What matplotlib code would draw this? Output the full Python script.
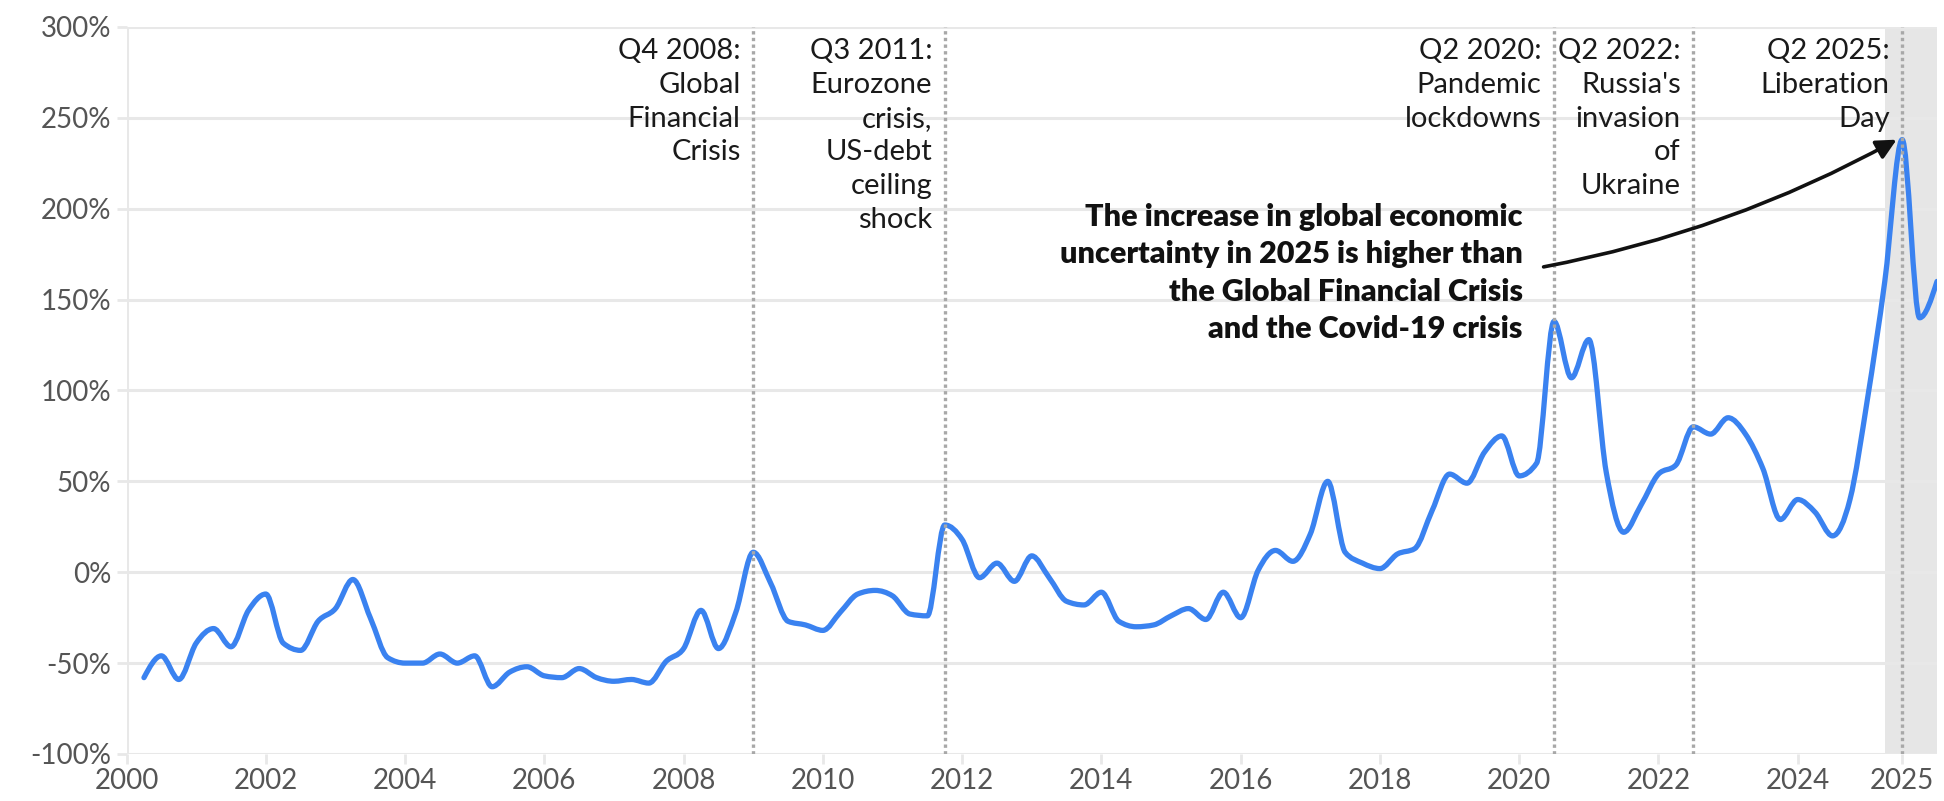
import numpy as np
import matplotlib
matplotlib.use("Agg")
import matplotlib.pyplot as plt
from matplotlib.path import Path
from matplotlib.patches import PathPatch, FancyArrowPatch

# ---------------- data (quarterly, Q1 2000 .. Q4 2025, plotted at quarter end) ----------------
start_year = 2000
values = [
    -58, -46, -59, -39,     # 2000
    -31, -41, -21, -12,     # 2001
    -39, -43, -27, -20,     # 2002
    -4, -25, -47, -50,      # 2003
    -50, -45, -50, -46,     # 2004
    -63, -55, -52, -57,     # 2005
    -58, -53, -58, -60,     # 2006
    -59, -61, -49, -42,     # 2007
    -21, -42, -22, 11,      # 2008
    -6, -27, -29, -32,      # 2009
    -22, -12, -10, -13,     # 2010
    -23, -24, 26, 18,       # 2011
    -3, 5, -5, 9,           # 2012
    -3, -16, -18, -11,      # 2013
    -27, -30, -29, -24,     # 2014
    -20, -26, -11, -25,     # 2015
    1, 12, 6, 21,           # 2016
    50, 11, 5, 2,           # 2017
    10, 13, 34, 54,         # 2018
    49, 66, 75, 53,         # 2019
    60, 138, 107, 128,      # 2020
    55, 22, 37, 54,         # 2021
    59, 80, 76, 85,         # 2022
    76, 57, 29, 40,         # 2023
    33, 20, 40, 95,         # 2024
    160, 238, 140, 160,     # 2025
]

events_x = [2009.0, 2011.75, 2020.5, 2022.5, 2025.5]
events_text = [
    "Q4 2008:\nGlobal\nFinancial\nCrisis",
    "Q3 2011:\nEurozone\ncrisis,\nUS-debt\nceiling\nshock",
    "Q2 2020:\nPandemic\nlockdowns",
    "Q2 2022:\nRussia's\ninvasion\nof\nUkraine",
    "Q2 2025:\nLiberation\nDay",
]

xtick_pos = [2000, 2002, 2004, 2006, 2008, 2010, 2012, 2014, 2016, 2018, 2020, 2022, 2024, 2025.5]
xtick_labels = ["2000", "2002", "2004", "2006", "2008", "2010", "2012", "2014", "2016",
                "2018", "2020", "2022", "2024", "2025"]
yticks = [-100, -50, 0, 50, 100, 150, 200, 250, 300]

highlight_start = 2025.25
callout_text = ("The increase in global economic\nuncertainty in 2025 is higher than\n"
                "the Global Financial Crisis\nand the Covid-19 crisis")

# ---------------- styling ----------------
plt.rcParams['font.family'] = ['Lato', 'DejaVu Sans']
BLUE = "#3a82f0"
GRID = "#e8e8e8"
TICKC = "#555555"

fig = plt.figure(figsize=(19.44, 8.01), dpi=100)
ax = fig.add_axes([0.0651, 0.0587, 0.9313, 0.9076])

x = np.array([start_year + 0.25 * (i + 1) for i in range(len(values))])
y = np.array(values, dtype=float)

# monotone cubic (d3 curveMonotoneX style) rendered as Bezier path
n = len(x)
h = np.diff(x)
s = np.diff(y) / h
t = np.zeros(n)
for i in range(1, n - 1):
    s0, s1 = s[i - 1], s[i]
    p = (s0 * h[i] + s1 * h[i - 1]) / (h[i - 1] + h[i])
    t[i] = (np.sign(s0) + np.sign(s1)) * min(abs(s0), abs(s1), 0.5 * abs(p))
t[0] = (3 * s[0] - t[1]) / 2
t[-1] = (3 * s[-1] - t[-2]) / 2
verts = [(x[0], y[0])]
codes = [Path.MOVETO]
for i in range(n - 1):
    dx = (x[i + 1] - x[i]) / 3
    verts += [(x[i] + dx, y[i] + dx * t[i]), (x[i + 1] - dx, y[i + 1] - dx * t[i + 1]),
              (x[i + 1], y[i + 1])]
    codes += [Path.CURVE4] * 3
line = PathPatch(Path(verts, codes), facecolor="none", edgecolor=BLUE, lw=3.8,
                 capstyle="round", joinstyle="round", zorder=3)
ax.add_patch(line)

ax.set_xlim(2000, 2026)
ax.set_ylim(-100, 300)

# shaded highlight
ax.axvspan(highlight_start, 2026, color="#e6e6e6", zorder=0, lw=0)

# grid
for v in yticks:
    ax.axhline(v, color=GRID, lw=2.2, zorder=1)
ax.axvline(2000, color=GRID, lw=2.2, zorder=1)

for sp in ax.spines.values():
    sp.set_visible(False)

ax.set_yticks(yticks)
ax.set_yticklabels([f"{v}%" for v in yticks])
ax.set_xticks(xtick_pos)
ax.set_xticklabels(xtick_labels)
ax.tick_params(axis="both", colors=GRID, labelcolor=TICKC, labelsize=20, width=2, length=7)
ax.tick_params(axis="y", pad=4)
ax.tick_params(axis="x", pad=3)

# event lines and labels
for ex, et in zip(events_x, events_text):
    ax.plot([ex, ex], [-100, 300], color="#a8a8a8", lw=2.4, ls=(0, (1, 1)), zorder=4,
            solid_capstyle="butt")
    ax.annotate(et, xy=(ex, 300), xytext=(-9, -8), textcoords="offset points",
                ha="right", va="top", fontsize=21, color="#1a1a1a", linespacing=1.37,
                zorder=5)

# callout
ax.text(2020.05, 203, callout_text, ha="right", va="top", fontsize=22, fontweight="heavy",
        color="#111111", linespacing=1.4, zorder=5)
arrow = FancyArrowPatch((2020.35, 168), (2025.42, 238), connectionstyle="arc3,rad=0.08",
                        arrowstyle="-|>", mutation_scale=30, lw=2.6, color="#111111",
                        zorder=6, shrinkA=0, shrinkB=0)
ax.add_patch(arrow)

fig.savefig("out.png", dpi=100)
